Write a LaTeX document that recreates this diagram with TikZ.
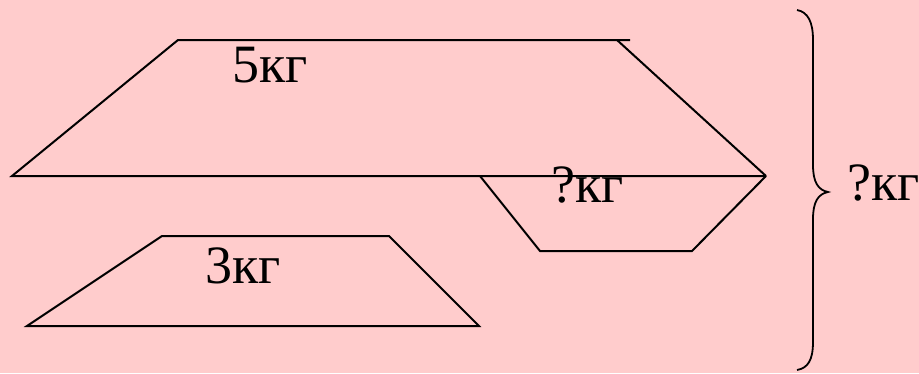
\documentclass[tikz,border=0pt]{standalone}
\usepackage{fontspec}
\setmainfont{Liberation Serif}
\definecolor{bgpink}{RGB}{255,204,204}
\begin{document}
\begin{tikzpicture}[x=1pt,y=-1pt,
  shape line/.style={draw=black,line width=2pt,line join=miter},
  label text/.style={inner sep=0pt,anchor=base west,font=\fontsize{54}{64}\selectfont}]
\fill[bgpink] (0,0) rectangle (919,373);
\useasboundingbox (0,0) rectangle (919,373);
% big trapezoid (5 kg)
\draw[shape line] (630,40) -- (178,40) -- (12,176) -- (766,176);
\draw[shape line] (617,40) -- (766,176);
% lower part (? kg)
\draw[shape line] (480,176) -- (540,251) -- (692,251) -- (766,176);
% 3 kg trapezoid
\draw[shape line] (27,326) -- (162,236) -- (389,236) -- (479,326) -- cycle;
% brace
\draw[line width=1.8pt] (797,10) .. controls (808,12) and (813,22) .. (813,40)
  -- (813,165) .. controls (813,182) and (818,190) .. (828,192)
  .. controls (818,194) and (813,202) .. (813,219)
  -- (813,342) .. controls (813,360) and (808,368) .. (797,370);
\node[label text] (five) at (232,82) {5кг};
\node[label text] (qmid) at (551,202) {?кг};
\node[label text] (three) at (205,283) {3кг};
\node[label text] (qright) at (847,200) {?кг};
\end{tikzpicture}
\end{document}
